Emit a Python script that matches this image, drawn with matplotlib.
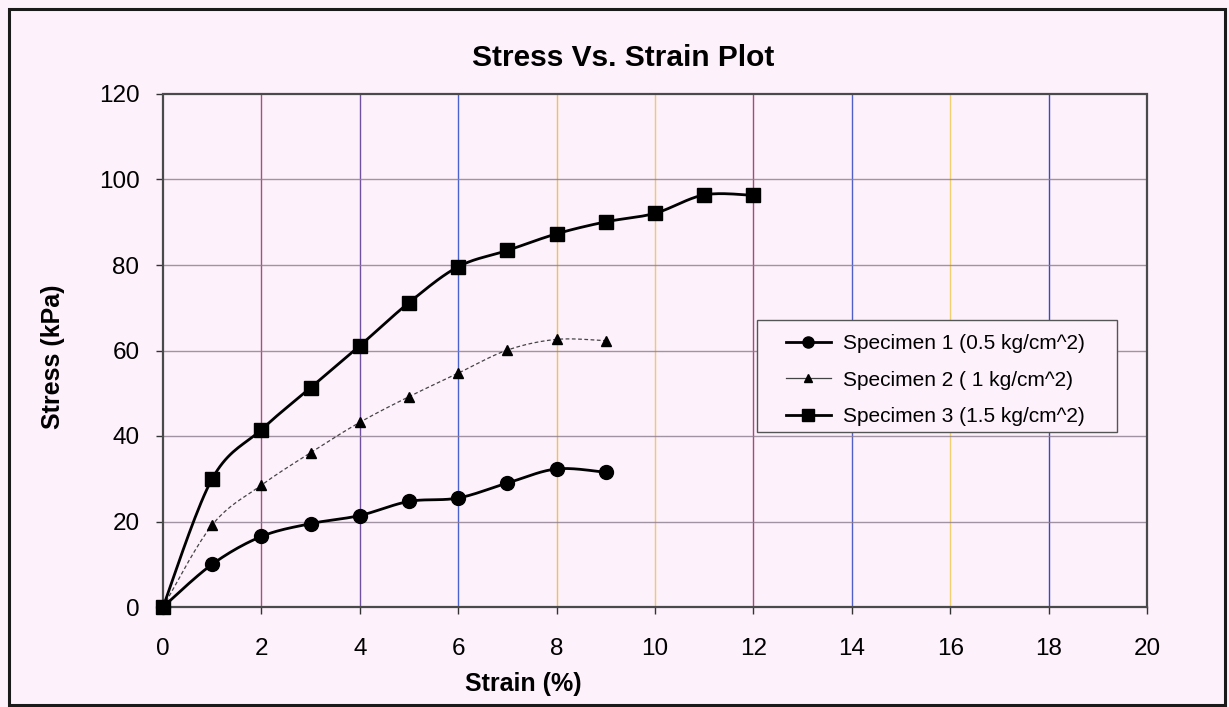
import numpy as np
import matplotlib
matplotlib.use("Agg")
import matplotlib.pyplot as plt
from matplotlib.lines import Line2D
from matplotlib.patches import Rectangle

plt.rcParams['font.family'] = ['Liberation Sans', 'DejaVu Sans']

# ---- data ----
strain_1 = [0, 1, 2, 3, 4, 5, 6, 7, 8, 9]
stress_1 = [0, 10.0, 16.5, 19.5, 21.4, 24.7, 25.5, 29.0, 32.3, 31.5]

strain_2 = [0, 1, 2, 3, 4, 5, 6, 7, 8, 9]
stress_2 = [0, 19.2, 28.5, 36.1, 43.2, 49.2, 54.7, 60.1, 62.6, 62.3]

strain_3 = [0, 1, 2, 3, 4, 5, 6, 7, 8, 9, 10, 11, 12]
stress_3 = [0, 30.0, 41.5, 51.3, 61.1, 71.2, 79.6, 83.4, 87.3, 90.1, 92.1, 96.4, 96.3]

labels = ["Specimen 1 (0.5 kg/cm^2)", "Specimen 2 ( 1 kg/cm^2)", "Specimen 3 (1.5 kg/cm^2)"]
x_ticks = [0, 2, 4, 6, 8, 10, 12, 14, 16, 18, 20]
y_ticks = [0, 20, 40, 60, 80, 100, 120]
title = "Stress Vs. Strain Plot"
x_label = "Strain (%)"
y_label = "Stress (kPa)"


def smooth(x, y, n=20):
    """Bezier smoothing of the connecting line (like Excel smoothed lines)."""
    x = np.asarray(x, float)
    y = np.asarray(y, float)
    px = np.concatenate([[x[0]], x, [x[-1]]])
    py = np.concatenate([[y[0]], y, [y[-1]]])
    xs, ys = [], []
    for i in range(1, len(px) - 2):
        p0 = np.array([px[i - 1], py[i - 1]])
        p1 = np.array([px[i], py[i]])
        p2 = np.array([px[i + 1], py[i + 1]])
        p3 = np.array([px[i + 2], py[i + 2]])
        c1 = p1 + (p2 - p0) / 6.0
        c2 = p2 - (p3 - p1) / 6.0
        t = np.linspace(0, 1, n)[:, None]
        b = ((1 - t) ** 3) * p1 + 3 * ((1 - t) ** 2) * t * c1 + 3 * (1 - t) * t ** 2 * c2 + t ** 3 * p2
        xs.extend(b[:, 0])
        ys.extend(b[:, 1])
    return np.array(xs), np.array(ys)


bg = '#fdf1fb'
fig = plt.figure(figsize=(12.29, 7.07), dpi=100, facecolor=bg)
ax = fig.add_axes([163 / 1229, 1 - 607 / 707, 984 / 1229, 513 / 707])
ax.set_facecolor(bg)

# outer chart border
fig.patches.append(Rectangle((9 / 1229, 2 / 707), 1216 / 1229, 696 / 707,
                             transform=fig.transFigure, fill=False,
                             edgecolor='#1a1a1a', linewidth=2.2))

ax.set_xlim(0, 20)
ax.set_ylim(0, 120)
ax.set_xticks(x_ticks)
ax.set_yticks(y_ticks)
ax.tick_params(axis='both', labelsize=17.5, length=5, width=1.0, color='#333333',
               direction='out')
ax.tick_params(axis='x', pad=17.5)
ax.tick_params(axis='y', pad=12)

# gridlines (colour fringes of the scanned original)
vcols = ['#a8507c', '#7050a0', '#4a62d0', '#f2c24a', '#f0c870', '#a84a78',
         '#5060c8', '#f2d070', '#3848c8']
for xv, c in zip(x_ticks[1:-1], vcols):
    ax.axvline(xv, color=c, linewidth=1.0, zorder=1)
for yv in y_ticks[1:-1]:
    ax.axhline(yv, color='#8c7c8c', linewidth=1.0, alpha=0.8, zorder=1)

for s in ax.spines.values():
    s.set_color('#4a4a4a')
    s.set_linewidth(1.6)
    s.set_linestyle((0, (2, 1)))

# series
sx, sy = smooth(strain_1, stress_1)
ax.plot(sx, sy, color='black', linewidth=2.0, zorder=3)
ax.plot(strain_1, stress_1, linestyle='none', marker='o', markersize=10,
        color='black', zorder=4, clip_on=False)

sx, sy = smooth(strain_2, stress_2)
ax.plot(sx, sy, color='#444444', linewidth=0.9, linestyle=(0, (3, 2)), zorder=3)
ax.plot(strain_2, stress_2, linestyle='none', marker='^', markersize=7,
        color='black', zorder=4, clip_on=False)

sx, sy = smooth(strain_3, stress_3)
ax.plot(sx, sy, color='black', linewidth=2.0, zorder=3)
ax.plot(strain_3, stress_3, linestyle='none', marker='s', markersize=10.5,
        color='black', zorder=4, clip_on=False)

# legend box (frame drawn separately so padding matches the original)
ax.add_patch(Rectangle((0.604, 0.341), 0.3655, 0.218, transform=ax.transAxes,
                       facecolor=bg, edgecolor='#555555', linewidth=1.0,
                       zorder=5, clip_on=False))
handles = [
    Line2D([], [], color='black', linewidth=2.0, marker='o', markersize=8),
    Line2D([], [], color='#444444', linewidth=0.9, marker='^', markersize=6,
           markerfacecolor='black', markeredgecolor='black'),
    Line2D([], [], color='black', linewidth=2.0, marker='s', markersize=8),
]
leg = ax.legend(handles, labels, loc='upper left',
                bbox_to_anchor=((786 - 163) / 984, (607 - 334) / 513),
                borderaxespad=0, borderpad=0, fontsize=15, frameon=False,
                handlelength=2.16, handletextpad=0.58, labelspacing=0.84)
leg.set_zorder(6)

fig.text(623 / 1229, 1 - 58 / 707, title, fontsize=21.5, fontweight='bold',
         ha='center', va='center')
ax.set_xlabel(x_label, fontsize=18, fontweight='bold')
ax.xaxis.set_label_coords((523 - 163) / 984, (607 - 684) / 513)
ax.xaxis.label.set_va('center')
ax.set_ylabel(y_label, fontsize=18, fontweight='bold')
ax.yaxis.set_label_coords((53 - 163) / 984, (607 - 357) / 513)
ax.yaxis.label.set_va('center')

fig.savefig('out.png', dpi=100, facecolor=bg)
